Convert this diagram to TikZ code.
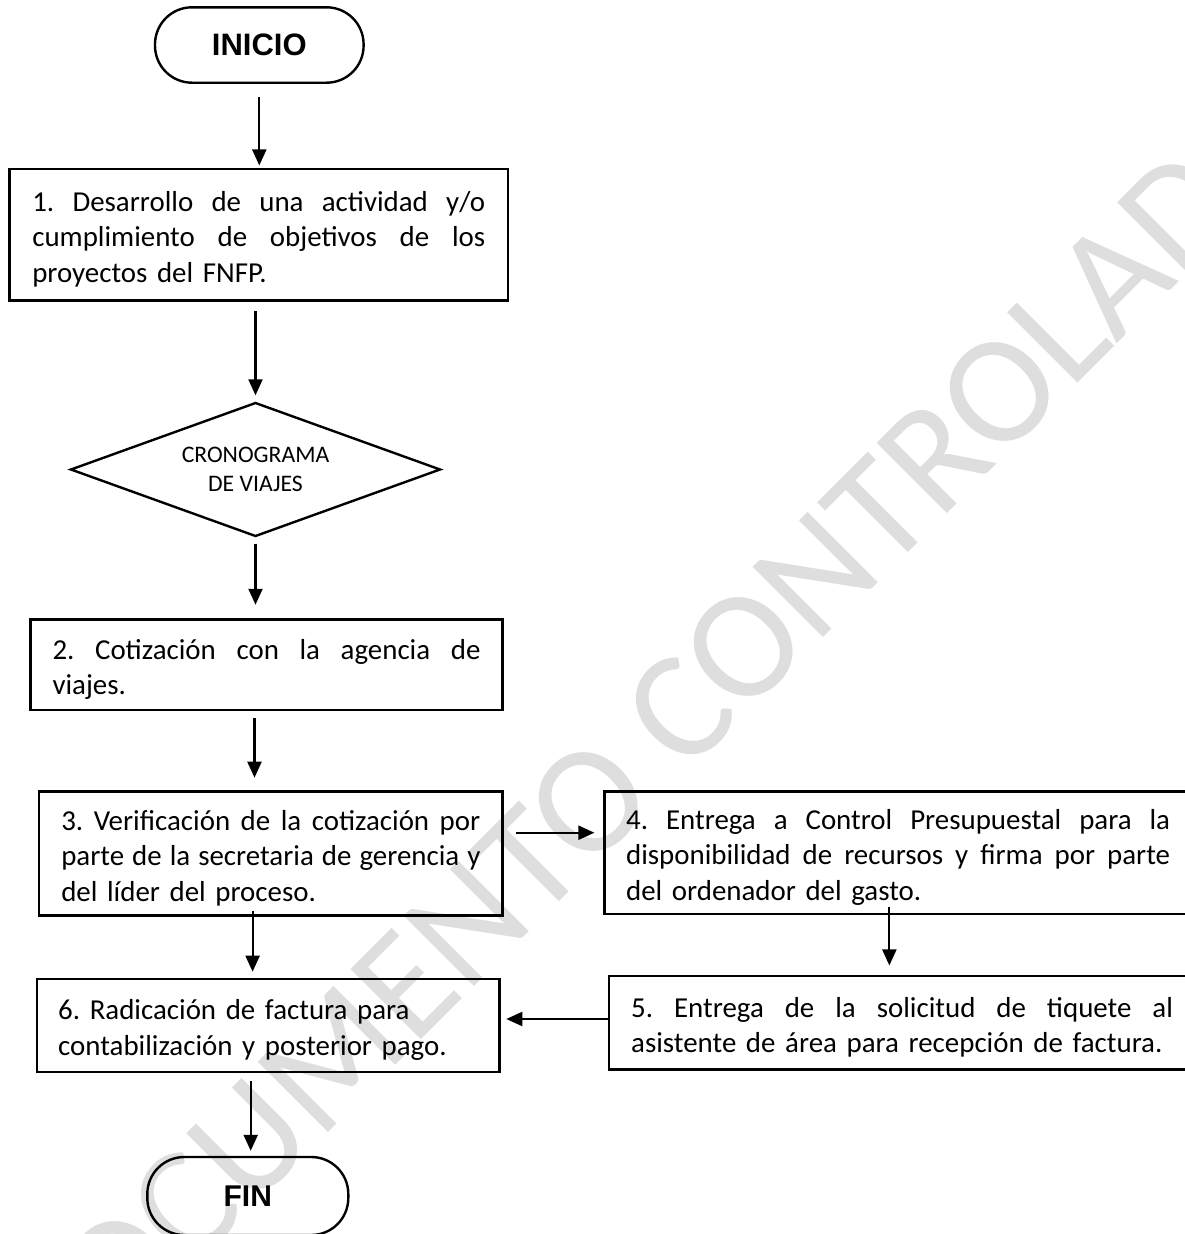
\documentclass[tikz,border=0pt]{standalone}
\usepackage{fontspec}
\setmainfont{Carlito}
\newfontfamily\arialfont{Liberation Sans}
\usetikzlibrary{shapes.geometric,arrows.meta}
\newcommand{\fjline}[2]{\makebox[#1][s]{\spaceskip=0.226em plus 1fil minus 0.09em\relax #2}}
\newcommand{\topst}{\rule{0pt}{34pt}}
\newcommand{\botst}{\rule[-10pt]{0pt}{10pt}}
\frenchspacing
\begin{document}
\begin{tikzpicture}[x=1pt,y=-1pt,
  box/.style={draw, line width=2.6pt, rectangle, inner sep=0pt, align=left,
    font=\fontsize{28.9}{35.3}\selectfont},
  pill/.style={draw, line width=2.4pt, rectangle, rounded corners=37pt, inner sep=0pt,
    font=\arialfont\bfseries\fontsize{31}{36}\selectfont},
  decision/.style={draw, diamond, line width=2.4pt, inner sep=0pt, aspect=2.76, align=center,
    font=\fontsize{23.7}{28.5}\selectfont},
  arr/.style={line width=2.2pt, -{Triangle[length=16pt,width=14pt]}},
  wm/.style={text=black!13, font=\fontsize{155}{160}\selectfont}
]
\useasboundingbox (0,0) rectangle (1184,1234);
% watermark
\node[wm, rotate=45, anchor=base] (wmark) at (685.5,775.5) {DOCUMENTO CONTROLADO};

% nodes
\node[pill, minimum width=208.6pt, minimum height=75.4pt] (ini) at (259.3,45) {INICIO};
\node[box, minimum width=498.4pt, minimum height=131.7pt, text width=453pt] (b1) at (258.8,234.9)
  {\topst\fjline{453pt}{1. Desarrollo de una actividad y/o}\\\fjline{453pt}{cumplimiento de objetivos de los}\\proyectos del FNFP.\botst};
\node[decision, minimum width=370pt, minimum height=134pt] (dia) at (255.5,469.5) {CRONOGRAMA\\DE VIAJES};
\node[box, minimum width=472pt, minimum height=90.7pt, text width=428pt] (b2) at (266.5,664.7)
  {\topst\fjline{428pt}{2. Cotización con la agencia de}\\viajes.\botst};
\node[box, minimum width=463.5pt, minimum height=124pt, text width=419pt] (b3) at (270.8,853.7)
  {\topst\fjline{419pt}{3. Verificación de la cotización por}\\\fjline{419pt}{parte de la secretaria de gerencia y}\\del líder del proceso.\botst};
\node[box, minimum width=587.7pt, minimum height=122.3pt, text width=544pt] (b4) at (898.15,852.9)
  {\topst\fjline{544pt}{4. Entrega a Control Presupuestal para la}\\\fjline{544pt}{disponibilidad de recursos y firma por parte}\\del ordenador del gasto.\botst};
\node[box, minimum width=586.4pt, minimum height=93.5pt, text width=541.8pt] (b5) at (902.1,1022.8)
  {\topst\fjline{541.8pt}{5. Entrega de la solicitud de tiquete al}\\asistente de área para recepción de factura.\botst};
\node[box, minimum width=462.4pt, minimum height=93pt, text width=420pt] (b6) at (268.2,1025.5)
  {\topst 6. Radicación de factura para\\contabilización y posterior pago.\botst};
\node[pill, minimum width=201pt, minimum height=78pt, font=\arialfont\bfseries\fontsize{30}{35}\selectfont] (fin) at (247.8,1196) {FIN};

% helper points
\coordinate (p2) at ([xshift=-12pt]b2.south);
\coordinate (p3r) at ([yshift=21pt]b3.east);
\coordinate (p4) at ([xshift=-8.8pt]b4.south);
\coordinate (p5) at ([yshift=3.8pt]b5.west);
\coordinate (p3b) at ([xshift=-18.2pt]b3.south);
\coordinate (pf) at ([xshift=2.9pt]fin.north);

% connectors
\draw[arr, shorten <=13pt, shorten >=2.3pt] (ini.south) -- (ini.south |- b1.north);
\draw[arr, shorten <=9.3pt, shorten >=6pt] (dia.north |- b1.south) -- (dia.north);
\draw[arr, shorten <=6pt, shorten >=13.3pt] (dia.south) -- (dia.south |- b2.north);
\draw[arr, shorten <=6.7pt, shorten >=12.7pt] (p2) -- (p2 |- b3.north);
\draw[arr, shorten <=11.8pt, shorten >=8.6pt] (p3r) -- (p3r -| b4.west);
\draw[arr, shorten <=-8.3pt, shorten >=9.3pt] (p4) -- (p4 |- b5.north);
\draw[arr, shorten <=0pt, shorten >=5.6pt] (p5) -- (p5 -| b6.east);
\draw[arr, shorten <=-5.7pt, shorten >=6pt] (p3b) -- (p3b |- b6.north);
\draw[arr, shorten <=8pt, shorten >=5pt] (pf |- b6.south) -- (pf);
\end{tikzpicture}
\end{document}
